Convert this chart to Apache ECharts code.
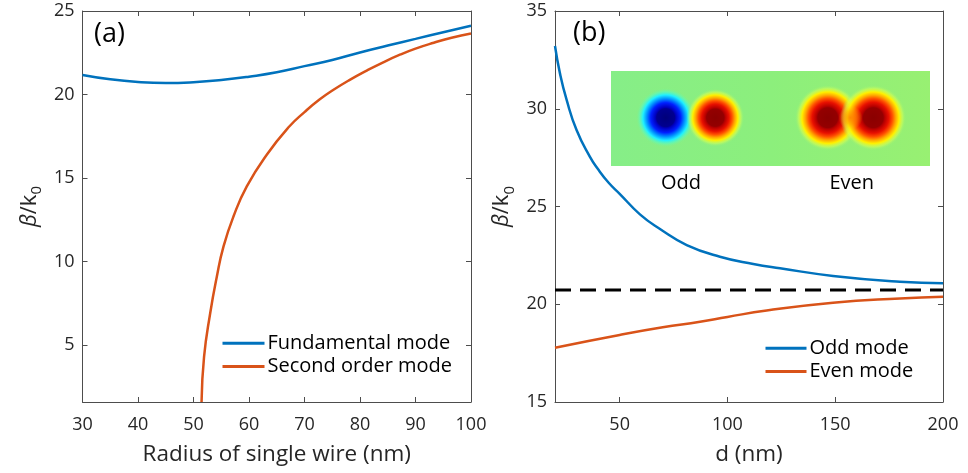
<!DOCTYPE html>
<html>
<head>
<meta charset="utf-8">
<script src="https://cdn.jsdelivr.net/npm/echarts@6/dist/echarts.min.js"></script>
<style>
  html, body { margin: 0; padding: 0; background: #fff; }
  #chart { width: 968px; height: 473px; }
</style>
</head>
<body>
<div id="chart"></div>
<script>
// (a) single wire
const radiusFund = [30, 35, 40, 45, 50, 55, 60, 65, 70, 75, 80, 85, 90, 95, 100];
const fundamentalMode = [21.17, 20.91, 20.75, 20.69, 20.74, 20.87, 21.07, 21.33, 21.7, 22.07, 22.52, 22.93, 23.33, 23.73, 24.12];
const radiusSecond = [51.45, 51.9, 53.0, 54.2, 55.4, 57.2, 59.6, 63.2, 67.3, 70, 72.7, 75.3, 78, 81.3, 84, 87.3, 90, 93.3, 96.5, 100];
const secondOrderMode = [1.6, 4.3, 6.9, 9.1, 10.9, 12.7, 14.5, 16.4, 18.1, 18.95, 19.7, 20.3, 20.85, 21.45, 21.9, 22.4, 22.75, 23.1, 23.4, 23.65];

// (b) wire pair
const gapOdd = [20, 22.3, 25.4, 30, 36.15, 40, 45, 50, 59.4, 68.7, 81.1, 96.5, 112, 124.4, 149, 180, 200];
const oddMode = [33.21, 31.81, 30.45, 28.91, 27.55, 26.9, 26.2, 25.65, 24.6, 23.85, 23.03, 22.43, 22.06, 21.84, 21.45, 21.15, 21.07];
const gapEven = [20, 50, 70, 87.3, 100, 118.2, 149, 180, 200];
const evenMode = [17.78, 18.43, 18.82, 19.1, 19.35, 19.68, 20.08, 20.3, 20.39];
const singleWireLevel = 20.73;

// tick labels
const xTicksA = [30, 40, 50, 60, 70, 80, 90, 100];
const yTicksA = [5, 10, 15, 20, 25];
const xTicksB = [50, 100, 150, 200];
const yTicksB = [15, 20, 25, 30, 35];

const FONT = '"Open Sans", "Liberation Sans", Arial, sans-serif';
const AXIS_COLOR = '#4d4d4d';
const TEXT_COLOR = '#262626';
const BLUE = '#0072BD';
const ORANGE = '#D95319';

const pairs = (xs, ys) => xs.map((x, i) => [x, ys[i]]);

function xAxisOf(grid, range, ticks, pos, name) {
  const ax = {
    gridIndex: grid,
    type: 'value',
    position: pos,
    min: range[0],
    max: range[1],
    axisLine: { show: true, onZero: false, lineStyle: { color: AXIS_COLOR, width: 1 } },
    axisTick: { show: true, inside: true, length: 5, customValues: ticks, lineStyle: { color: AXIS_COLOR } },
    axisLabel: {
      show: pos === 'bottom', customValues: ticks, margin: 14,
      fontSize: 18, fontFamily: FONT, color: TEXT_COLOR,
      showMinLabel: true, showMaxLabel: true
    },
    splitLine: { show: false }
  };
  if (name) {
    ax.name = name;
    ax.nameLocation = 'middle';
    ax.nameGap = 41;
    ax.nameTextStyle = { fontSize: 22.5, fontFamily: FONT, color: TEXT_COLOR };
  }
  return ax;
}

function yAxisOf(grid, range, ticks, pos, withName) {
  const ax = {
    gridIndex: grid,
    type: 'value',
    position: pos,
    min: range[0],
    max: range[1],
    axisLine: { show: true, onZero: false, lineStyle: { color: AXIS_COLOR, width: 1 } },
    axisTick: { show: true, inside: true, length: 5, customValues: ticks, lineStyle: { color: AXIS_COLOR } },
    axisLabel: {
      show: pos === 'left', customValues: ticks, margin: 8,
      fontSize: 18, fontFamily: FONT, color: TEXT_COLOR,
      showMinLabel: true, showMaxLabel: true
    },
    splitLine: { show: false }
  };
  if (withName) {
    ax.name = '{b|β}{t|/k}{s|0}';
    ax.nameLocation = 'middle';
    ax.nameGap = 38;
    ax.nameTextStyle = {
      rich: {
        b: { fontSize: 22, fontStyle: 'italic', fontFamily: FONT, color: TEXT_COLOR, lineHeight: 30, verticalAlign: 'middle' },
        t: { fontSize: 22, fontFamily: FONT, color: TEXT_COLOR, lineHeight: 30, verticalAlign: 'middle' },
        s: { fontSize: 15, fontFamily: FONT, color: TEXT_COLOR, lineHeight: 14, verticalAlign: 'bottom' }
      }
    };
  }
  return ax;
}

function curve(name, xi, yi, xs, ys, color) {
  return {
    name: name,
    type: 'line',
    xAxisIndex: xi,
    yAxisIndex: yi,
    data: pairs(xs, ys),
    smooth: 0.5,
    showSymbol: false,
    symbol: 'none',
    lineStyle: { color: color, width: 2.5 },
    itemStyle: { color: color },
    emphasis: { disabled: true },
    z: 3
  };
}

// inset field-pattern picture (decoration)
function blob(cx, cy, r, stops) {
  return {
    type: 'circle',
    shape: { cx: cx, cy: cy, r: r },
    style: { fill: { type: 'radial', x: 0.5, y: 0.5, r: 0.5, colorStops: stops } },
    silent: true
  };
}
const blueStops = [
  { offset: 0, color: '#00007a' }, { offset: 0.3, color: '#000090' },
  { offset: 0.35, color: '#0000c0' }, { offset: 0.5, color: '#0020ff' },
  { offset: 0.63, color: '#0090ff' }, { offset: 0.76, color: '#20f0ff' },
  { offset: 0.88, color: 'rgba(90,250,190,0.55)' }, { offset: 1, color: 'rgba(140,238,124,0)' }
];
const redStops = [
  { offset: 0, color: '#8a0000' }, { offset: 0.3, color: '#940000' },
  { offset: 0.35, color: '#b80000' }, { offset: 0.47, color: '#e81000' },
  { offset: 0.58, color: '#ff5000' }, { offset: 0.68, color: '#ffa800' },
  { offset: 0.78, color: '#fff000' }, { offset: 0.89, color: 'rgba(215,255,80,0.55)' },
  { offset: 1, color: 'rgba(140,238,124,0)' }
];
const midStops = [
  { offset: 0, color: 'rgba(255,130,0,0.85)' }, { offset: 0.55, color: 'rgba(255,160,0,0.5)' },
  { offset: 1, color: 'rgba(255,210,0,0)' }
];

const option = {
  animation: false,
  backgroundColor: '#ffffff',
  grid: [
    { left: 82.5, top: 11, width: 388.5, height: 391 },
    { left: 555, top: 11, width: 388, height: 391 }
  ],
  xAxis: [
    xAxisOf(0, [30, 100], xTicksA, 'bottom', 'Radius of single wire (nm)'),
    xAxisOf(0, [30, 100], xTicksA, 'top'),
    xAxisOf(1, [20, 200], xTicksB, 'bottom', 'd (nm)'),
    xAxisOf(1, [20, 200], xTicksB, 'top')
  ],
  yAxis: [
    yAxisOf(0, [1.6, 25], yTicksA, 'left', true),
    yAxisOf(0, [1.6, 25], yTicksA, 'right'),
    yAxisOf(1, [15, 35], yTicksB, 'left', true),
    yAxisOf(1, [15, 35], yTicksB, 'right')
  ],
  legend: [
    {
      data: ['Fundamental mode', 'Second order mode'],
      orient: 'vertical', left: 222.5, top: 331.5, padding: 0,
      icon: 'rect', itemWidth: 42, itemHeight: 3, itemGap: 0,
      textStyle: { fontSize: 20, fontFamily: FONT, color: '#000', lineHeight: 23.4, padding: [0, 0, 0, -2] },
      selectedMode: false
    },
    {
      data: ['Odd mode', 'Even mode'],
      orient: 'vertical', left: 765.5, top: 336.5, padding: 0,
      icon: 'rect', itemWidth: 41, itemHeight: 3, itemGap: 0,
      textStyle: { fontSize: 20, fontFamily: FONT, color: '#000', lineHeight: 23.4, padding: [0, 0, 0, -2] },
      selectedMode: false
    }
  ],
  series: [
    curve('Fundamental mode', 0, 0, radiusFund, fundamentalMode, BLUE),
    curve('Second order mode', 0, 0, radiusSecond, secondOrderMode, ORANGE),
    curve('Odd mode', 2, 2, gapOdd, oddMode, BLUE),
    curve('Even mode', 2, 2, gapEven, evenMode, ORANGE),
    {
      name: 'single wire',
      type: 'line',
      xAxisIndex: 2,
      yAxisIndex: 2,
      data: [[20, singleWireLevel], [200, singleWireLevel]],
      showSymbol: false,
      symbol: 'none',
      lineStyle: { color: '#000', width: 3, type: [16, 9] },
      emphasis: { disabled: true },
      z: 2
    }
  ],
  graphic: [
    { type: 'text', left: 94, top: 21, style: { text: '(a)', font: '27px ' + FONT, fill: '#000' } },
    { type: 'text', left: 573, top: 20, style: { text: '(b)', font: '27px ' + FONT, fill: '#000' } },
    {
      type: 'group',
      silent: true,
      children: [
        {
          type: 'rect',
          shape: { x: 611, y: 71, width: 319, height: 95 },
          style: {
            fill: {
              type: 'linear', x: 0, y: 0, x2: 1, y2: 0,
              colorStops: [
                { offset: 0, color: '#86ee88' }, { offset: 0.5, color: '#8cef7c' },
                { offset: 1, color: '#98f072' }
              ]
            }
          }
        },
        blob(665.7, 117.7, 30, blueStops),
        blob(715.3, 117.7, 29, redStops),
        blob(827.7, 117.7, 33, redStops),
        blob(873.3, 117.7, 33, redStops),
        {
          type: 'ellipse',
          shape: { cx: 850.5, cy: 117.7, rx: 13, ry: 12 },
          style: { fill: { type: 'radial', x: 0.5, y: 0.5, r: 0.5, colorStops: midStops } }
        },
        { type: 'text', x: 681, y: 183, style: { text: 'Odd', font: '20px ' + FONT, fill: '#000', align: 'center', verticalAlign: 'middle' } },
        { type: 'text', x: 851.7, y: 183, style: { text: 'Even', font: '20px ' + FONT, fill: '#000', align: 'center', verticalAlign: 'middle' } }
      ]
    }
  ]
};

const chart = echarts.init(document.getElementById('chart'), null, { renderer: 'canvas' });
chart.setOption(option);
</script>
</body>
</html>
